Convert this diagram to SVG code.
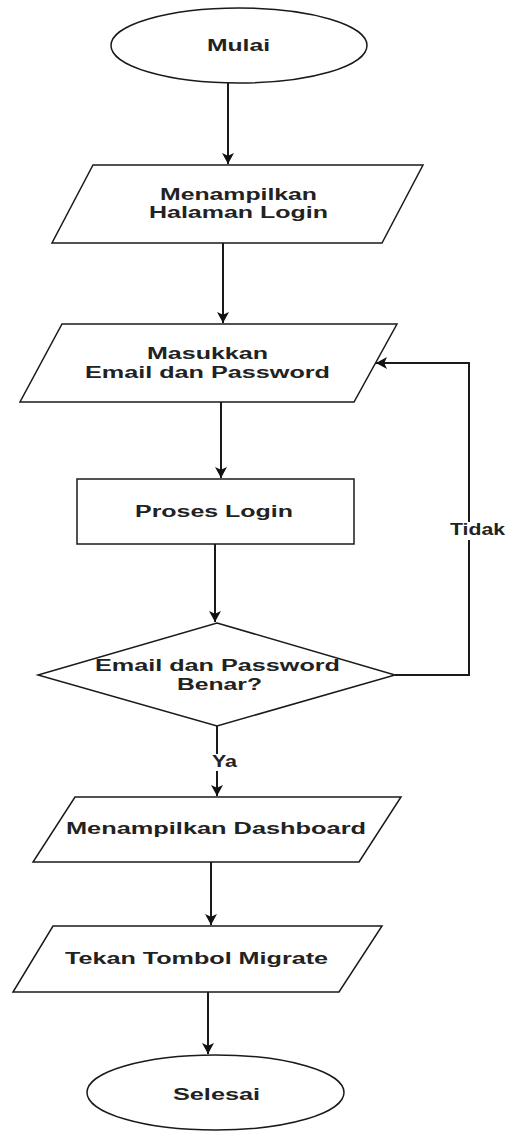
<svg xmlns="http://www.w3.org/2000/svg" width="509" height="1131" viewBox="0 0 509 1131">
<style>
.shape{fill:#ffffff;stroke:#1a1a1a;stroke-width:1.5}
.edge{fill:none;stroke:#1a1a1a;stroke-width:2}
.t{font-family:"Liberation Sans",Arial,sans-serif;font-weight:bold;font-size:16px;fill:#222222}
</style>
<defs>
<marker id="arr" viewBox="0 0 10 10" refX="10" refY="5" markerWidth="11" markerHeight="12" markerUnits="userSpaceOnUse" orient="auto" preserveAspectRatio="none">
<path d="M0,0 L10,5 L0,10 L2.5,5 z" fill="#111111"/>
</marker>
</defs>
<rect width="509" height="1131" fill="#ffffff"/>
<g id="connectors">
<path class="edge" d="M228,83 L228,164" marker-end="url(#arr)"/>
<path class="edge" d="M223,243 L223,323" marker-end="url(#arr)"/>
<path class="edge" d="M221,402 L221,478" marker-end="url(#arr)"/>
<path class="edge" d="M215,544 L215,622" marker-end="url(#arr)"/>
<path class="edge" d="M217,726 L217,796" marker-end="url(#arr)"/>
<path class="edge" d="M395,675 L469,675 L469,363 L376,363" marker-end="url(#arr)"/>
<path class="edge" d="M211,862 L211,925" marker-end="url(#arr)"/>
<path class="edge" d="M208,992 L208,1054" marker-end="url(#arr)"/>
<rect x="446" y="522" width="62" height="18" fill="#ffffff"/>
<text class="t" x="477.5" y="535" text-anchor="middle" textLength="55" lengthAdjust="spacingAndGlyphs">Tidak</text>
<rect x="209" y="754" width="31" height="17" fill="#ffffff"/>
<text class="t" x="224.5" y="767" text-anchor="middle" textLength="25" lengthAdjust="spacingAndGlyphs">Ya</text>
</g>
<g id="mulai">
<ellipse class="shape" cx="239" cy="45.5" rx="128" ry="37.5"/>
<text class="t" x="238.5" y="51" text-anchor="middle" textLength="63" lengthAdjust="spacingAndGlyphs">Mulai</text>
</g>
<g id="halaman-login">
<polygon class="shape" points="93,165 423,165 382,243 52,243"/>
<text class="t" x="238.5" y="200" text-anchor="middle" textLength="157" lengthAdjust="spacingAndGlyphs">Menampilkan</text>
<text class="t" x="238.5" y="218" text-anchor="middle" textLength="179" lengthAdjust="spacingAndGlyphs">Halaman Login</text>
</g>
<g id="masukkan">
<polygon class="shape" points="62,324 397,324 354,402 20,402"/>
<text class="t" x="207.5" y="359" text-anchor="middle" textLength="121" lengthAdjust="spacingAndGlyphs">Masukkan</text>
<text class="t" x="207.5" y="378" text-anchor="middle" textLength="245" lengthAdjust="spacingAndGlyphs">Email dan Password</text>
</g>
<g id="proses-login">
<rect class="shape" x="77" y="479" width="277" height="65"/>
<text class="t" x="214" y="517" text-anchor="middle" textLength="158" lengthAdjust="spacingAndGlyphs">Proses Login</text>
</g>
<g id="cek">
<polygon class="shape" points="217,623 395,675 217,726 38,675"/>
<text class="t" x="217.5" y="671" text-anchor="middle" textLength="245" lengthAdjust="spacingAndGlyphs">Email dan Password</text>
<text class="t" x="219.5" y="690" text-anchor="middle" textLength="85" lengthAdjust="spacingAndGlyphs">Benar?</text>
</g>
<g id="dashboard">
<polygon class="shape" points="75,797 401,797 359,862 33,862"/>
<text class="t" x="216" y="834" text-anchor="middle" textLength="300" lengthAdjust="spacingAndGlyphs">Menampilkan Dashboard</text>
</g>
<g id="migrate">
<polygon class="shape" points="53,926 382,926 339,992 13,992"/>
<text class="t" x="196.5" y="964" text-anchor="middle" textLength="263" lengthAdjust="spacingAndGlyphs">Tekan Tombol Migrate</text>
</g>
<g id="selesai">
<ellipse class="shape" cx="215.5" cy="1092.5" rx="128.5" ry="37.5"/>
<text class="t" x="216.5" y="1100" text-anchor="middle" textLength="87" lengthAdjust="spacingAndGlyphs">Selesai</text>
</g>
</svg>
